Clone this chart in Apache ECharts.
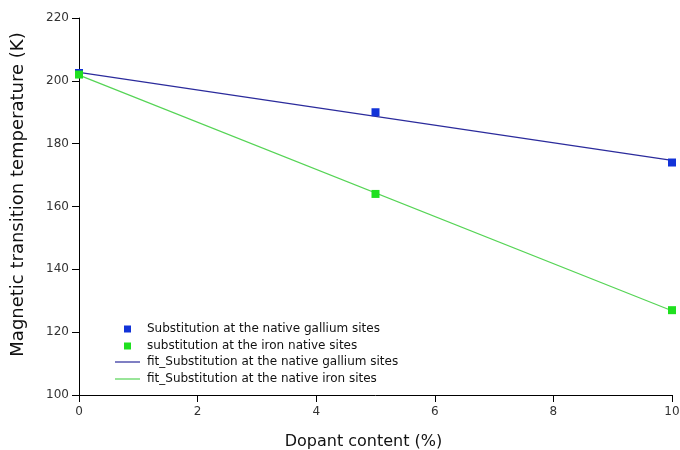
<!DOCTYPE html>
<html>
<head>
<meta charset="utf-8">
<script src="https://cdn.jsdelivr.net/npm/echarts@6/dist/echarts.min.js"></script>
<style>html,body{margin:0;padding:0;background:#fff}#c{width:680px;height:450px}</style>
</head>
<body>
<div id="c"></div>
<script>
const dopant = [0, 5, 10];
const galliumVals = [202.5, 190, 174];
const ironVals = [202, 164, 127];
const fitX = [0, 10];
const fitGallium = [202.7, 174.7];
const fitIron = [201.8, 126.8];
const names = [
  'Substitution at the native gallium sites',
  'substitution at the iron native sites',
  'fit_Substitution at the native gallium sites',
  'fit_Substitution at the native iron sites'
];
const blueMark = '#1233d8', greenMark = '#1fe01f', blueLine = '#2b2b9c', greenLine = '#55d455';
const pair = (xs, ys) => xs.map((x, i) => [x, ys[i]]);
const font = '"DejaVu Sans", sans-serif';
const legText = { fontFamily: font, fontSize: 12, color: '#111' };
const chart = echarts.init(document.getElementById('c'));
chart.setOption({
  animation: false,
  backgroundColor: '#fff',
  grid: { left: 79, right: 8, top: 18, bottom: 55, containLabel: false, outerBoundsMode: 'none' },
  xAxis: {
    type: 'value', min: 0, max: 10, interval: 2,
    name: 'Dopant content (%)', nameLocation: 'middle', nameGap: 39,
    nameTextStyle: { fontFamily: font, fontSize: 16, color: '#111', padding: [0, 24, 0, 0] },
    axisLine: { lineStyle: { color: '#000', width: 1 } },
    axisTick: { inside: false, length: 7, lineStyle: { color: '#000' } },
    axisLabel: { fontFamily: font, fontSize: 12, color: '#333', margin: 11 },
    splitLine: { show: false }
  },
  yAxis: {
    type: 'value', min: 100, max: 220, interval: 20,
    name: 'Magnetic transition temperature (K)', nameLocation: 'middle', nameGap: 52,
    nameTextStyle: { fontFamily: font, fontSize: 18, color: '#111', padding: [0, 0, 0, 24] },
    axisLine: { show: true, lineStyle: { color: '#000', width: 1 } },
    axisTick: { show: true, inside: false, length: 7, lineStyle: { color: '#000' } },
    axisLabel: { fontFamily: font, fontSize: 12, color: '#333', margin: 10 },
    splitLine: { show: false }
  },
  legend: [
    {
      orient: 'vertical', left: 119, top: 318, itemGap: 5,
      itemWidth: 7, itemHeight: 7, icon: 'rect',
      textStyle: Object.assign({ padding: [0, 0, 0, 11] }, legText),
      data: [
        { name: names[0], itemStyle: { color: blueMark } },
        { name: names[1], itemStyle: { color: greenMark } }
      ]
    },
    {
      orient: 'vertical', left: 110, top: 351, itemGap: 5,
      itemWidth: 25, itemHeight: 1.2, icon: 'rect',
      textStyle: Object.assign({ padding: [0, 0, 0, 2] }, legText),
      data: [
        { name: names[2], itemStyle: { color: blueLine } },
        { name: names[3], itemStyle: { color: greenLine } }
      ]
    }
  ],
  series: [
    { name: names[2], type: 'line', data: pair(fitX, fitGallium), symbol: 'none',
      lineStyle: { color: blueLine, width: 1.2 }, itemStyle: { color: blueLine }, z: 2 },
    { name: names[3], type: 'line', data: pair(fitX, fitIron), symbol: 'none',
      lineStyle: { color: greenLine, width: 1.2 }, itemStyle: { color: greenLine }, z: 2 },
    { name: names[0], type: 'scatter', data: pair(dopant, galliumVals), symbol: 'rect', symbolSize: 8,
      itemStyle: { color: blueMark, opacity: 1 }, z: 3 },
    { name: names[1], type: 'scatter', data: pair(dopant, ironVals), symbol: 'rect', symbolSize: 8,
      itemStyle: { color: greenMark, opacity: 1 }, z: 4 }
  ]
});
</script>
</body>
</html>
